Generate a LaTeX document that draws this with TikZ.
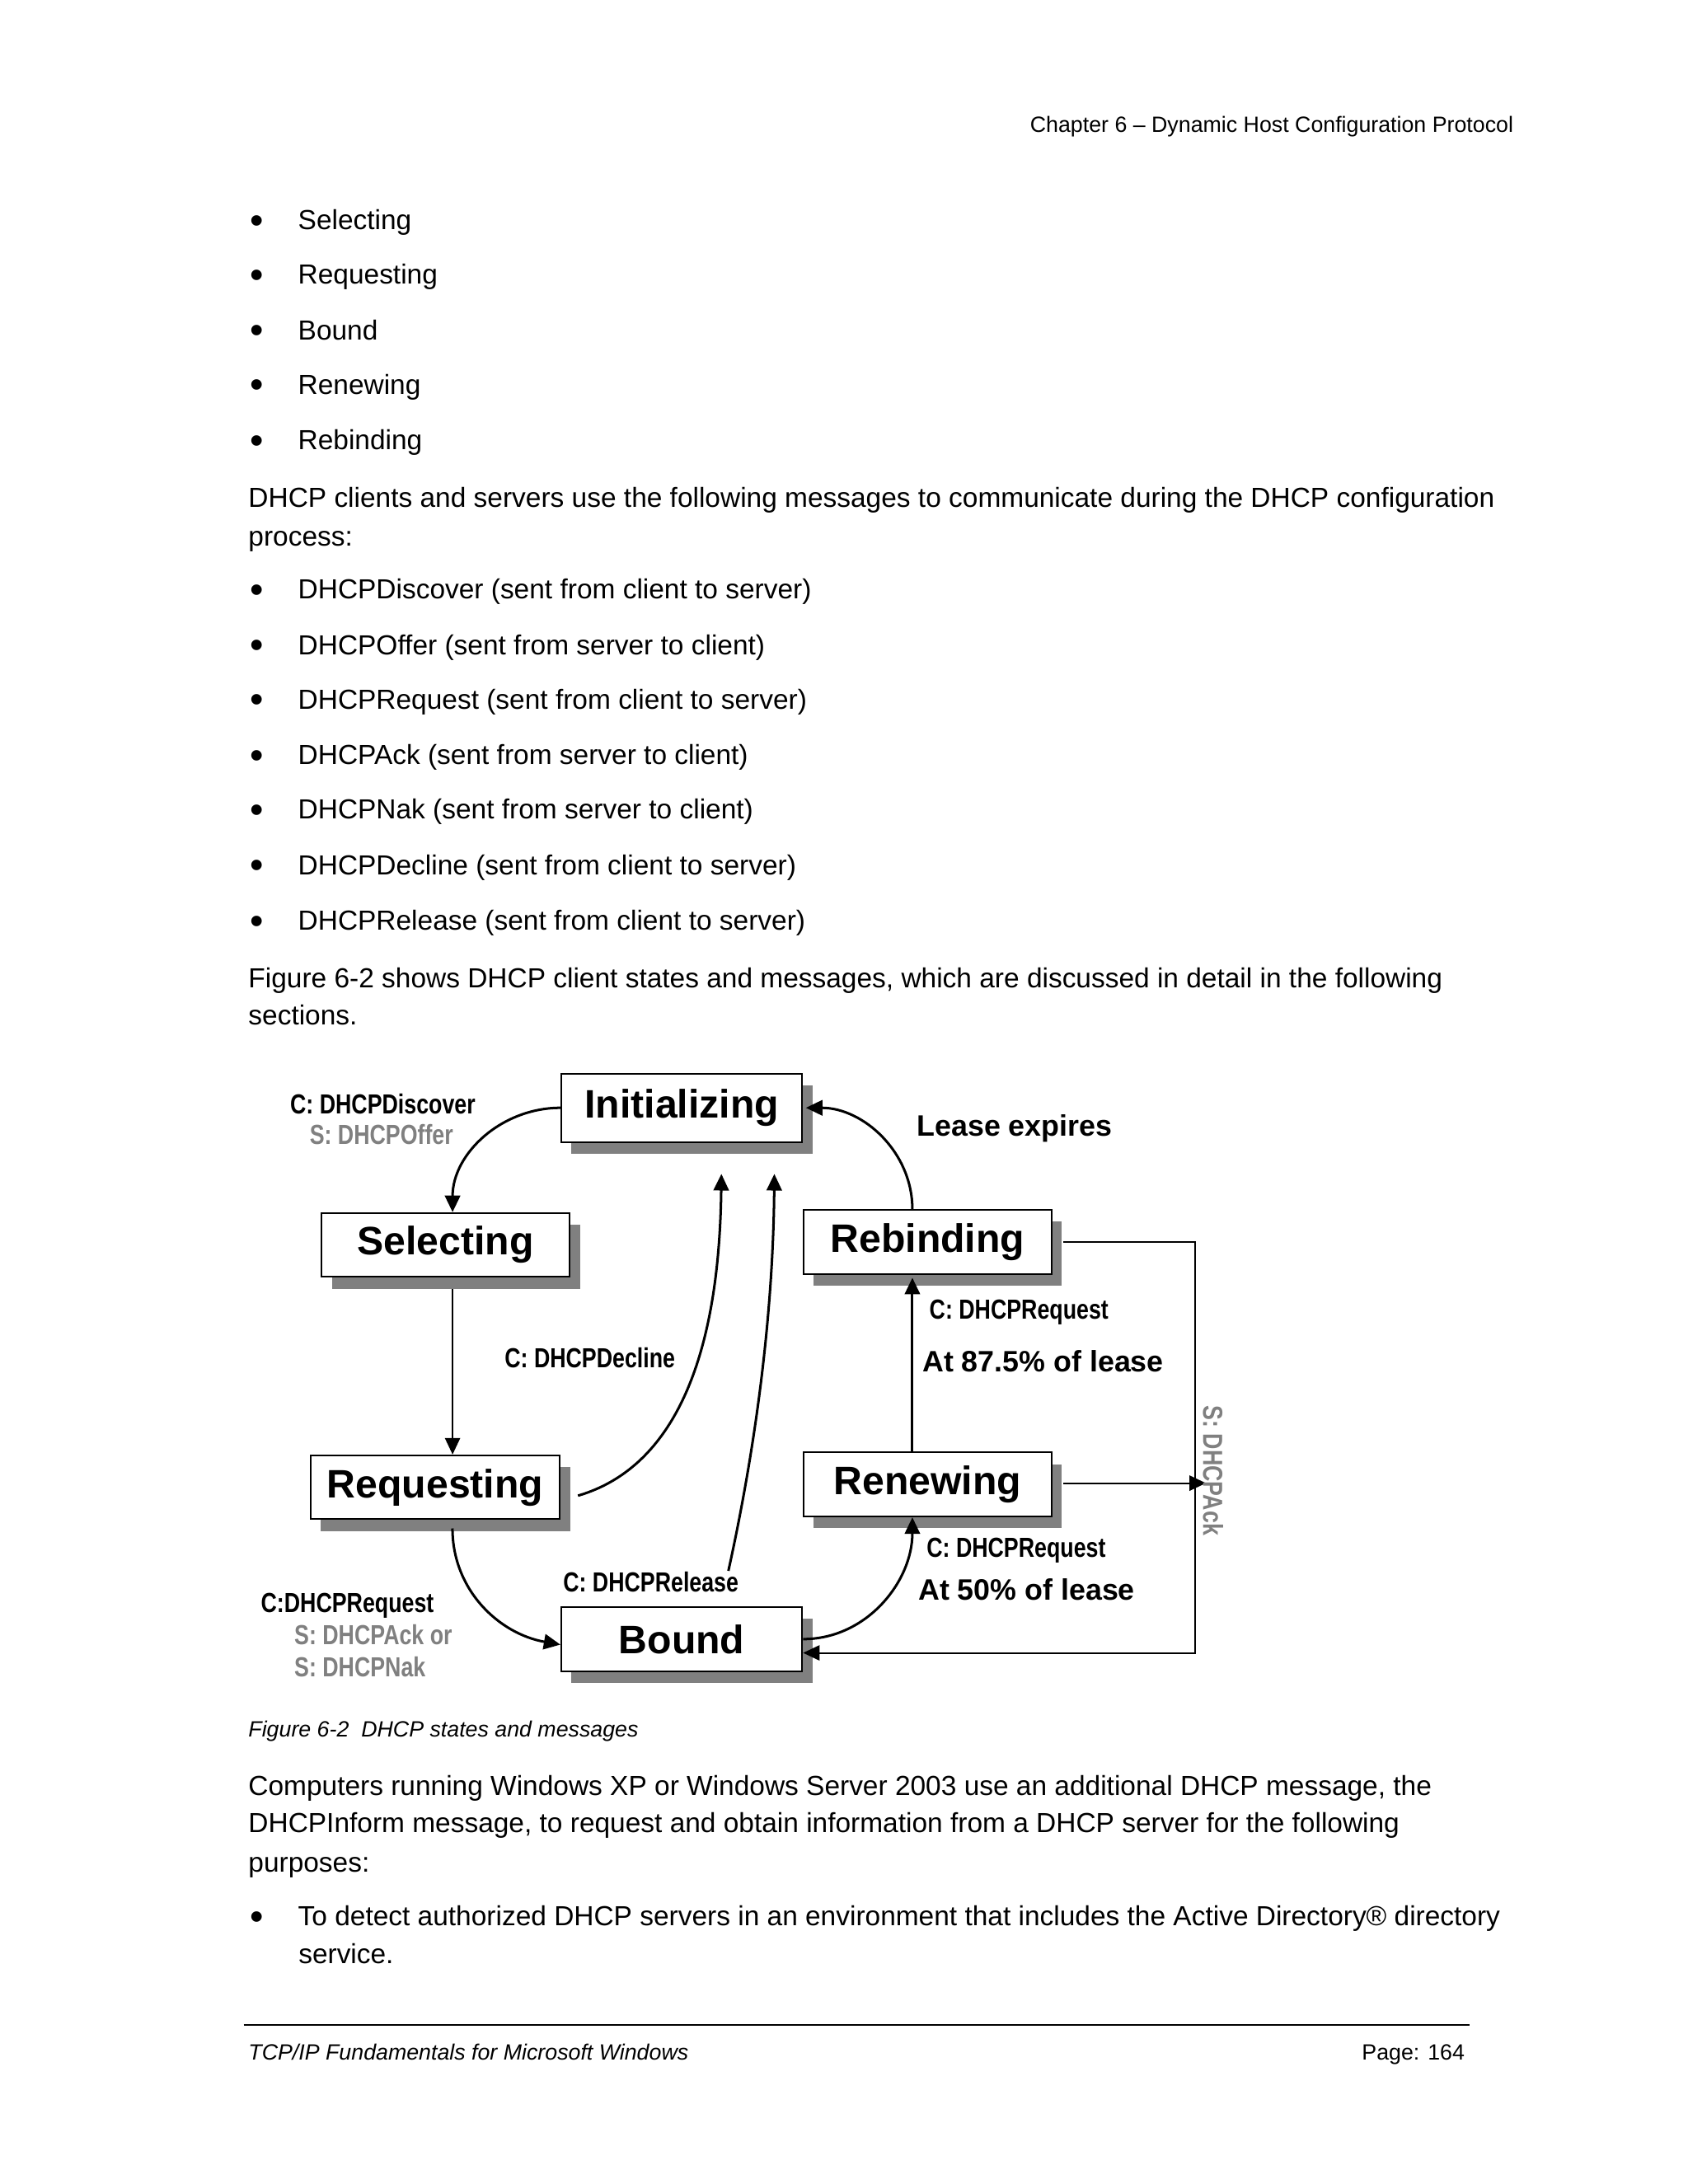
\documentclass[tikz,border=0pt]{standalone}
\usepackage{fontspec}
\setmainfont{Liberation Sans}
\newfontfamily\narrowfont[FakeStretch=0.8]{Liberation Sans}
\usetikzlibrary{arrows.meta,shadows}
\definecolor{shadowgray}{gray}{0.5}
\definecolor{srvgray}{gray}{0.5}
\newcommand{\bul}{\makebox[17.5pt][l]{\raisebox{-1.4pt}{\scalebox{1.4}{\textbullet}}}}
\tikzset{
	state/.style	= {draw=black, line width=0.6pt, fill=white, minimum height=23.2pt, inner sep=0pt,
			   font=\fontsize{14.4}{16}\selectfont\bfseries,
			   drop shadow={shadow xshift=3.7pt, shadow yshift=-4.2pt, fill=shadowgray, opacity=1}},
	msg/.style	= {anchor=base west, inner sep=0pt, font=\narrowfont\bfseries\fontsize{10}{12}\selectfont},
	srv/.style	= {msg, text=srvgray},
	note/.style	= {anchor=base west, inner sep=0pt, font=\fontsize{10.7}{13}\selectfont\bfseries},
	line/.style	= {anchor=base west, inner sep=0pt, font=\fontsize{10}{12}\selectfont},
	small/.style	= {anchor=base west, inner sep=0pt, font=\fontsize{8}{10}\selectfont},
	flow/.style	= {line width=0.9pt, -{Triangle[length=6pt,width=5.5pt]}},
	wire/.style	= {line width=0.6pt, -{Triangle[length=6pt,width=5.5pt]}}
}
\begin{document}
\begin{tikzpicture}[x=0.505pt, y=-0.505pt]
	\fill[white] (0pt,0pt) rectangle (612pt,-792pt);
	\useasboundingbox (0pt,0pt) rectangle (612pt,-792pt);

	\node (head) at (1087, 95)	[small, anchor=base east]	{Chapter 6 – Dynamic Host Configuration Protocol};
	\node (st1) at (179, 165)	[line]	{\bul Selecting};
	\node (st2) at (179, 204)	[line]	{\bul Requesting};
	\node (st3) at (179, 244)	[line]	{\bul Bound};
	\node (st4) at (179, 283)	[line]	{\bul Renewing};
	\node (st5) at (179, 323)	[line]	{\bul Rebinding};
	\node (p1a) at (178, 364)	[line]	{DHCP clients and servers use the following messages to communicate during the DHCP configuration};
	\node (p1b) at (178, 392)	[line]	{process:};
	\node (ms1) at (179, 430)	[line]	{\bul DHCPDiscover (sent from client to server)};
	\node (ms2) at (179, 470)	[line]	{\bul DHCPOffer (sent from server to client)};
	\node (ms3) at (179, 509)	[line]	{\bul DHCPRequest (sent from client to server)};
	\node (ms4) at (179, 549)	[line]	{\bul DHCPAck (sent from server to client)};
	\node (ms5) at (179, 588)	[line]	{\bul DHCPNak (sent from server to client)};
	\node (ms6) at (179, 628)	[line]	{\bul DHCPDecline (sent from client to server)};
	\node (ms7) at (179, 668)	[line]	{\bul DHCPRelease (sent from client to server)};
	\node (p2a) at (178, 709)	[line]	{Figure 6-2 shows DHCP client states and messages, which are discussed in detail in the following};
	\node (p2b) at (178, 736)	[line]	{sections.};

	\node (Init)   at (489.5, 795.5)	[state, minimum width=87.4pt, minimum height=24.7pt]	{Initializing};
	\node (Sel)    at (320, 894)		[state, minimum width=89.9pt]	{Selecting};
	\node (Req)    at (312.5, 1068)	[state, minimum width=90.4pt]	{Requesting};
	\node (Bound)  at (489.5, 1177)	[state, minimum width=87.4pt]	{Bound};
	\node (Rebind) at (666, 892)		[state, minimum width=89.9pt]	{Rebinding};
	\node (Renew)  at (666, 1066)		[state, minimum width=89.9pt]	{Renewing};

	\coordinate (declineFrom) at (415, 1074);
	\coordinate (declineTip)  at (518, 843);
	\coordinate (releaseFrom) at (523, 1128);
	\coordinate (releaseTip)  at (556, 843);
	\coordinate (ackLine)     at (858, 1000);

	\draw[flow] (Init.west) to[out=180, in=90] ([xshift=2.5pt]Sel.north);
	\draw[flow] ([xshift=-5.5pt]Rebind.north) to[out=90, in=0] ([xshift=1pt]Init.east);
	\draw[flow] (declineFrom) .. controls (470, 1058) and (516, 1000) .. (declineTip);
	\draw[flow] (releaseFrom) .. controls (538, 1060) and (555, 960) .. (releaseTip);
	\draw[wire] ([xshift=2.5pt, yshift=-4pt]Sel.south) -- ([xshift=2.5pt]Sel.south |- Req.north);
	\draw[flow] ([xshift=6.25pt, yshift=-3pt]Req.south) to[out=-90, in=170] ([yshift=-2pt]Bound.west);
	\draw[flow] (Bound.east) to[out=0, in=-90] ([xshift=-5.5pt]Renew.south);
	\draw[flow] ([xshift=-5.5pt]Renew.north) -- ([xshift=-5.5pt, yshift=-1pt]Rebind.south);
	\draw[wire] ([xshift=4pt]Rebind.east) -| (ackLine) |- ([yshift=-5pt]Bound.east);
	\draw[wire] ([xshift=4pt, yshift=0.5pt]Renew.east) -- ([xshift=4pt, yshift=0.5pt]Renew.east -| ackLine);

	\node (discover) at (208, 800)	[msg]	{C: DHCPDiscover};
	\node (offer)    at (222, 822)	[srv]	{S: DHCPOffer};
	\node (expires)  at (658, 816)	[note]	{Lease expires};
	\node (decline)  at (362, 982)	[msg]	{C: DHCPDecline};
	\node (release)  at (404, 1143)	[msg]	{C: DHCPRelease};
	\node (reqA)     at (187, 1158)	[msg]	{C:DHCPRequest};
	\node (ackA)     at (211, 1181)	[srv]	{S: DHCPAck or};
	\node (nakA)     at (211, 1204)	[srv]	{S: DHCPNak};
	\node (reqB)     at (667, 947)	[msg]	{C: DHCPRequest};
	\node (at875)    at (662, 985)	[note]	{At 87.5\% of lease};
	\node (reqC)     at (665, 1118)	[msg]	{C: DHCPRequest};
	\node (at50)     at (659, 1149)	[note]	{At 50\% of lease};
	\node (ackB)     at (871, 1056)	[srv, anchor=center, rotate=-90]	{S: DHCPAck};

	\node (caption) at (178, 1247)	[small, font=\fontsize{8}{10}\selectfont\itshape]	{Figure 6-2\ \ DHCP states and messages};
	\node (p3a) at (178, 1289)	[line]	{Computers running Windows XP or Windows Server 2003 use an additional DHCP message, the};
	\node (p3b) at (178, 1316)	[line]	{DHCPInform message, to request and obtain information from a DHCP server for the following};
	\node (p3c) at (178, 1344)	[line]	{purposes:};
	\node (pu1) at (179, 1383)	[line]	{\bul To detect authorized DHCP servers in an environment that includes the Active Directory® directory};
	\node (pu2) at (214, 1410)	[line]	{service.};

	\draw[line width=0.8pt] (175, 1454) -- (1055, 1454);
	\node (foot) at (178, 1479)	[small, font=\fontsize{8}{10}\selectfont\itshape]	{TCP/IP Fundamentals for Microsoft Windows};
	\node (page) at (1052, 1479)	[small, anchor=base east]	{Page: 164};
\end{tikzpicture}
\end{document}
